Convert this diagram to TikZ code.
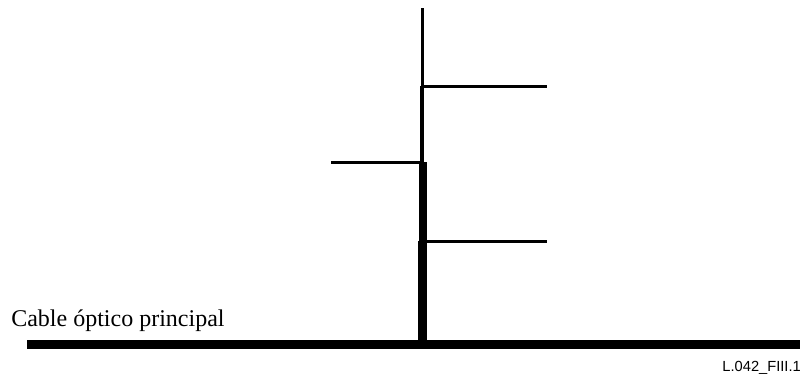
\documentclass[tikz,border=0pt]{standalone}
\usepackage{fontspec}
\setmainfont{Liberation Serif}
\newfontfamily\refsans{Liberation Sans}
\usetikzlibrary{positioning}

\begin{document}
\begin{tikzpicture}[x=0.75pt,y=-0.75pt,
  branch/.style={line width=2.25pt},
  cable/.style={line width=7.1pt}]
  \useasboundingbox (0,0) rectangle (805,376);

  % Main cable
  \coordinate (mainW) at (27,344.3);
  \coordinate (mainE) at (800,344.3);
  \draw[cable] (mainW) -- (mainE);

  % Riser, thinner after each branch
  \coordinate (r0) at (422.3,340);
  \coordinate (r1) at (422.3,240.5);
  \coordinate (r1b) at (423,240.5);
  \coordinate (r2) at (423,161.5);
  \coordinate (r2b) at (422,161.5);
  \coordinate (r3) at (422,86);
  \coordinate (r3b) at (422.5,86);
  \coordinate (r4) at (422.5,8);
  \draw[line width=6.98pt] (r0) -- (r1);
  \draw[line width=5.55pt] (r1b) -- (r2);
  \draw[line width=3pt] (r2b) -- (r3);
  \draw[line width=2.25pt] (r3b) -- (r4);

  % Branches
  \coordinate (b1) at (547,241.3);
  \coordinate (b1s) at (426,241.3);
  \coordinate (b2) at (331,162.3);
  \coordinate (b2s) at (420,162.3);
  \coordinate (b3) at (547,86.5);
  \coordinate (b3s) at (422,86.5);
  \draw[branch] (b1s) -- (b1);
  \draw[branch] (b2) -- (b2s);
  \draw[branch] (b3s) -- (b3);

  % Labels
  \node[anchor=base west, inner sep=0, font=\fontsize{18}{21}\selectfont] (cablename) at (11,326.5) {Cable óptico principal};
  \node[anchor=base east, inner sep=0, font=\refsans\fontsize{11}{13}\selectfont] (figref) at (801,371) {L.042\_FIII.1};
\end{tikzpicture}
\end{document}
